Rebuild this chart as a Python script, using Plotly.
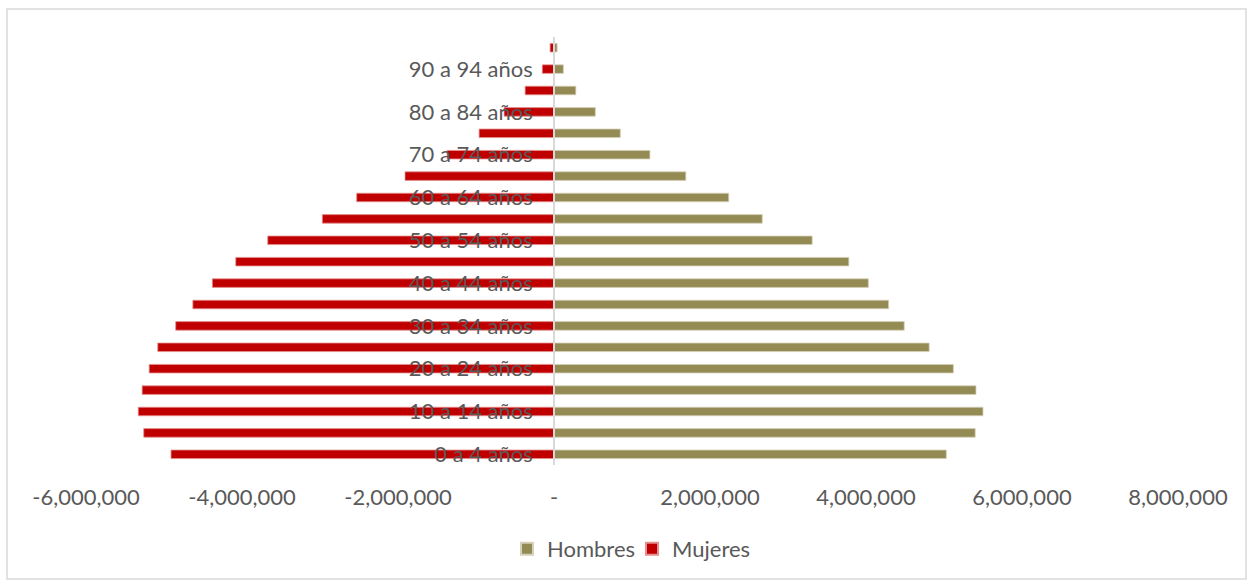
import plotly.graph_objects as go

# Age groups, youngest first (bottom of the pyramid)
age_groups = [
    "0 a 4 años", "5 a 9 años", "10 a 14 años", "15 a 19 años",
    "20 a 24 años", "25 a 29 años", "30 a 34 años", "35 a 39 años",
    "40 a 44 años", "45 a 49 años", "50 a 54 años", "55 a 59 años",
    "60 a 64 años", "65 a 69 años", "70 a 74 años", "75 a 79 años",
    "80 a 84 años", "85 a 89 años", "90 a 94 años", "95 años y más",
]

hombres = [
    5030000, 5400000, 5500000, 5410000, 5120000, 4810000, 4490000,
    4290000, 4030000, 3780000, 3310000, 2670000, 2240000, 1690000,
    1230000, 850000, 530000, 280000, 120000, 40000,
]

mujeres = [
    4910000, 5260000, 5330000, 5280000, 5190000, 5080000, 4850000,
    4630000, 4380000, 4080000, 3670000, 2970000, 2530000, 1910000,
    1370000, 960000, 640000, 370000, 150000, 50000,
]

x_tick_values = [-6000000, -4000000, -2000000, 0, 2000000, 4000000, 6000000, 8000000]
x_tick_labels = ["-6,000,000", "-4,000,000", "-2,000,000", "-",
                 "2,000,000", "4,000,000", "6,000,000", "8,000,000"]

x_min, x_max = -6000000, 8000000

FONT = "Lato, 'Open Sans', sans-serif"
GREY = "#595959"

fig = go.Figure()
fig.add_trace(go.Bar(
    y=age_groups, x=hombres, orientation="h", name="Hombres",
    marker=dict(color="#948A54", line=dict(color="#D6D1BA", width=0.8)),
))
fig.add_trace(go.Bar(
    y=age_groups, x=[-v for v in mujeres], orientation="h", name="Mujeres",
    marker=dict(color="#C00000", line=dict(color="#E59090", width=0.8)),
))

W, H = 1252, 585
ml, mr, mt, mb = 86, 74, 37, 120
plot_w = W - ml - mr
plot_h = H - mt - mb

def px_x(p):
    return (p - ml) / plot_w

def px_y(p):
    return (H - mb - p) / plot_h

fig.update_layout(
    width=W, height=H,
    margin=dict(l=ml, r=mr, t=mt, b=mb, pad=0),
    paper_bgcolor="white", plot_bgcolor="white",
    barmode="relative", bargap=0.6,
    font=dict(family=FONT, size=22, color=GREY),
    showlegend=True,
    legend=dict(
        orientation="h", x=0.5, xanchor="center",
        y=px_y(549), yanchor="middle",
        font=dict(family=FONT, size=22, color=GREY),
        itemsizing="constant", traceorder="normal",
        entrywidth=80,
    ),
    xaxis=dict(
        range=[x_min, x_max], domain=[0, 1],
        tickmode="array", tickvals=x_tick_values, ticktext=x_tick_labels,
        showgrid=False, zeroline=False, showline=False,
        ticks="outside", ticklen=13, tickcolor="rgba(0,0,0,0)",
        tickfont=dict(family=FONT, size=22, color=GREY),
    ),
    yaxis=dict(
        type="category", categoryorder="array", categoryarray=age_groups,
        anchor="free", position=(0 - x_min) / (x_max - x_min),
        tickmode="array", tickvals=age_groups[::2], ticktext=age_groups[::2],
        showgrid=False, zeroline=False,
        showline=True, linecolor="#D9D9D9", linewidth=1.5,
        ticks="outside", ticklen=16, tickcolor="rgba(0,0,0,0)",
        tickfont=dict(family=FONT, size=22, color=GREY),
    ),
    shapes=[dict(
        type="rect", xref="paper", yref="paper",
        x0=px_x(7), x1=px_x(1246), y0=px_y(579), y1=px_y(9),
        line=dict(color="#D9D9D9", width=1.5), fillcolor="rgba(0,0,0,0)",
        layer="below",
    )],
)

fig.write_html("out.html")
